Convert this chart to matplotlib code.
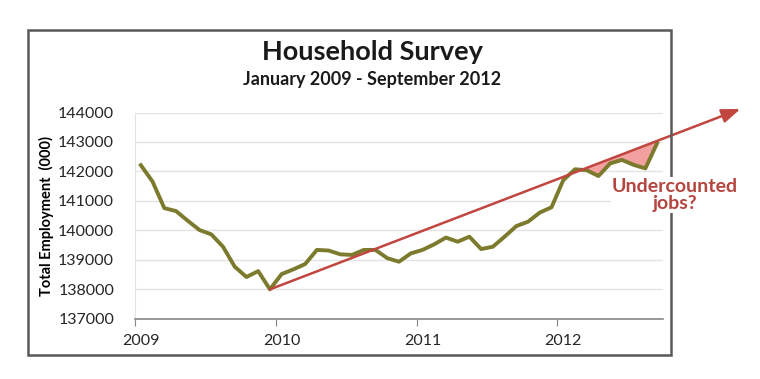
"""Household Survey employment, Jan 2009 - Sep 2012, with trend arrow."""

import numpy as np
import pandas as pd
import matplotlib
matplotlib.use("Agg")
import matplotlib.pyplot as plt
from matplotlib.patches import Rectangle

plt.rcParams['font.family'] = ['Lato', 'DejaVu Sans']

# monthly categories and household-survey employment (thousands)
months = pd.date_range("2009-01-01", periods=45, freq="MS")
employment = [
    142210, 141650, 140750, 140650, 140320, 140005, 139860, 139440, 138760, 138410, 138610, 137990,  # 2009
    138510, 138670, 138850, 139330, 139310, 139180, 139160, 139330, 139330, 139050, 138930, 139210,  # 2010
    139330, 139520, 139750, 139610, 139780, 139360, 139440, 139780, 140140, 140290, 140600, 140780,  # 2011
    141700, 142070, 142040, 141840, 142270, 142390, 142220, 142100, 142960,                          # 2012
]
year_labels = ["2009", "2010", "2011", "2012"]
y_ticks = [137000, 138000, 139000, 140000, 141000, 142000, 143000, 144000]

# trend arrow: starts at the Dec 2009 low, head lies past the last month
trend_end_month = 51.1
trend_end_value = 144120

OLIVE = "#7b7a2d"
RED = "#c0463f"

emp = np.array(employment, dtype=float)
idx = np.arange(len(months))
i0 = int(np.argmin(emp))
slope = (trend_end_value - emp[i0]) / (trend_end_month - i0)
trend = emp[i0] + slope * (idx - i0)

fig = plt.figure(figsize=(7.6, 3.79), dpi=100)
ax = fig.add_axes([135 / 760, 1 - 318.5 / 379, 528 / 760, 206 / 379])

# outer chart border
fig.patches.append(Rectangle((28 / 760, 1 - 355 / 379), 643 / 760, 325 / 379,
                             transform=fig.transFigure, fill=False,
                             edgecolor="#595959", linewidth=1.8, zorder=0))

ax.fill_between(idx, emp, trend, where=(idx >= 36) & (emp < trend),
                interpolate=True, color="#f2a0a0", linewidth=0, zorder=2)
ax.plot(idx, emp, color=OLIVE, linewidth=2.8, zorder=3)
ax.annotate("", xy=(trend_end_month, trend_end_value), xytext=(i0, emp[i0]),
            arrowprops=dict(arrowstyle="-|>,head_length=0.8,head_width=0.3",
                            color=RED, lw=1.8, mutation_scale=14,
                            shrinkA=0, shrinkB=0),
            annotation_clip=False, zorder=4)

ax.set_xlim(-0.5, len(months) - 0.5)
ax.set_ylim(137000, 144000)
ax.set_yticks(y_ticks)
ax.set_yticklabels([str(v) for v in y_ticks], fontsize=11.5, color="#262626")
ax.set_xticks(np.arange(-0.5, len(months), 12))
ax.set_xticklabels([])
ax.set_xticks(np.arange(0, len(months), 12), minor=True)
ax.set_xticklabels(year_labels, minor=True, fontsize=11.5, color="#262626")
ax.tick_params(axis="x", which="major", length=5, color="#868686", direction="out")
ax.tick_params(axis="x", which="minor", length=0, pad=11)
ax.tick_params(axis="y", length=0, pad=15)
ax.grid(axis="y", color="#e3e3e3", linewidth=1)
ax.set_axisbelow(True)
for s in ["top", "right"]:
    ax.spines[s].set_visible(False)
ax.spines["left"].set_color("#e3e3e3")
ax.spines["bottom"].set_color("#868686")
ax.spines["bottom"].set_linewidth(1.2)

ax.set_ylabel("Total Employment  (000)", fontsize=10.5, fontweight="bold", labelpad=3)

fig.text(372 / 760, 1 - 52 / 379, "Household Survey", ha="center", va="center",
         fontsize=19.5, fontweight="bold", color="#1a1a1a")
fig.text(372 / 760, 1 - 79 / 379, "January 2009 - September 2012", ha="center",
         va="center", fontsize=13, fontweight="bold", color="#1a1a1a")
fig.text(675 / 760, 1 - 195 / 379, "Undercounted\njobs?", ha="center", va="center",
         fontsize=14, fontweight="bold", color="#b4453f", linespacing=0.95,
         bbox=dict(facecolor="white", edgecolor="none", pad=1))

fig.savefig("out.png", dpi=100)
